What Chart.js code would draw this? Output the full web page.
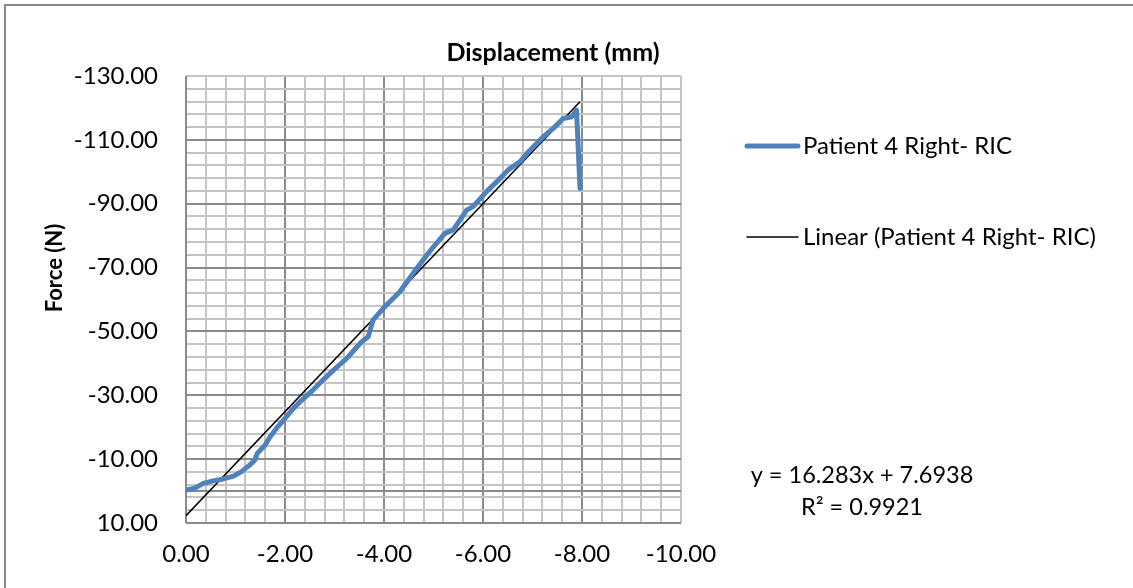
<!DOCTYPE html>
<html>
<head>
<meta charset="utf-8">
<script src="https://cdn.jsdelivr.net/npm/chart.js@4.4.1/dist/chart.umd.min.js"></script>
<style>
  html, body { margin: 0; padding: 0; background: #fff; }
  #wrap { width: 1133px; height: 588px; position: relative; }
</style>
</head>
<body>
<div id="wrap"><canvas id="c" width="1133" height="588"></canvas></div>
<script>
// ---- data ----
const displacement = [0.00, -0.18, -0.35, -0.55, -0.75, -0.96, -1.12, -1.29, -1.39, -1.44, -1.60, -1.70, -1.83, -2.00, -2.17, -2.34, -2.57, -2.78, -2.98, -3.25, -3.55, -3.68, -3.78, -4.05, -4.32, -4.59, -4.79, -5.00, -5.23, -5.40, -5.67, -5.80, -6.07, -6.28, -6.51, -6.75, -6.92, -7.22, -7.42, -7.62, -7.79, -7.89, -7.96];
const force = [-0.3, -0.9, -2.4, -3.2, -3.8, -4.7, -6.1, -8.2, -9.7, -11.8, -14.4, -17.0, -19.7, -22.8, -25.9, -28.5, -31.7, -35.0, -37.9, -41.6, -46.8, -48.3, -53.6, -58.3, -62.4, -68.2, -72.4, -76.5, -80.7, -81.8, -88.0, -89.1, -93.8, -96.9, -100.6, -103.2, -106.3, -111.0, -113.6, -116.7, -117.2, -119.3, -94.8];
const seriesName = "Patient 4 Right- RIC";
const trendName = "Linear (Patient 4 Right- RIC)";
const trendSlope = 16.283;
const trendIntercept = 7.6938;
const trendR2 = 0.9921;
const chartTitle = "Displacement (mm)";
const yTitle = "Force (N)";
const xMin = -10, xMax = 0, xMinorStep = 0.4, xMajorStep = 2;
const yMin = -130, yMax = 10, yMinorStep = 4, yMajorStep = 20;

// ---- build datasets ----
const seriesPoints = displacement.map((d, i) => ({ x: d, y: force[i] }));
const dMin = Math.min(...displacement), dMax = Math.max(...displacement);
const trendPoints = [dMax, dMin].map(d => ({ x: d, y: trendSlope * d + trendIntercept }));

const FONT = "Lato, 'Open Sans', sans-serif";
const MAJOR = '#8a8a8a', MINOR = '#c4c4c4';
const isMult = (v, step, base) => Math.abs(((v - base) / step) - Math.round((v - base) / step)) < 1e-6;

const deco = {
  id: 'deco',
  beforeDatasetsDraw(chart) {
    const ctx = chart.ctx, a = chart.chartArea;
    const y0 = chart.scales.y.getPixelForValue(0);
    ctx.save();
    ctx.strokeStyle = MAJOR; ctx.lineWidth = 2;
    ctx.beginPath(); ctx.moveTo(a.left, Math.round(y0)); ctx.lineTo(a.right, Math.round(y0)); ctx.stroke();
    ctx.beginPath(); ctx.moveTo(a.left, Math.round(a.bottom)); ctx.lineTo(a.right, Math.round(a.bottom)); ctx.stroke();
    ctx.beginPath(); ctx.moveTo(Math.round(a.left), a.top); ctx.lineTo(Math.round(a.left), a.bottom); ctx.stroke();
    ctx.restore();
  },
  afterDraw(chart) {
    const ctx = chart.ctx;
    ctx.save();
    // outer chart border
    ctx.strokeStyle = '#878787'; ctx.lineWidth = 2;
    ctx.beginPath(); ctx.moveTo(5, 588); ctx.lineTo(5, 5); ctx.lineTo(1133, 5); ctx.stroke();
    ctx.fillStyle = '#000';
    // title
    ctx.font = "bold 25px " + FONT;
    ctx.textAlign = 'center'; ctx.textBaseline = 'middle';
    ctx.fillText(chartTitle, 553, 53);
    // y title
    ctx.save();
    ctx.font = "bold 22px " + FONT;
    ctx.translate(55, 268); ctx.rotate(-Math.PI / 2);
    ctx.fillText(yTitle, 0, 0);
    ctx.restore();
    // legend
    const ds = chart.data.datasets;
    ctx.font = "24px " + FONT;
    ctx.textAlign = 'left';
    const rows = [146, 237];
    ds.forEach((d, i) => {
      ctx.strokeStyle = d.borderColor; ctx.lineWidth = d.borderWidth; ctx.lineCap = 'round';
      ctx.beginPath(); ctx.moveTo(747, rows[i]); ctx.lineTo(798, rows[i]); ctx.stroke();
      ctx.fillText(d.label, 803, rows[i]);
    });
    // equation
    ctx.font = "23.5px " + FONT;
    ctx.textAlign = 'center';
    ctx.fillText('y = ' + trendSlope + 'x + ' + trendIntercept, 862, 475);
    ctx.fillText('R\u00B2 = ' + trendR2, 862, 507);
    ctx.restore();
  }
};

new Chart(document.getElementById('c'), {
  type: 'scatter',
  data: {
    datasets: [
      { label: seriesName, data: seriesPoints, showLine: true, borderColor: '#4f81bd', backgroundColor: '#4f81bd', borderWidth: 5, pointRadius: 0, tension: 0, borderJoinStyle: 'round', borderCapStyle: 'round' },
      { label: trendName, data: trendPoints, showLine: true, borderColor: '#000000', backgroundColor: '#000000', borderWidth: 1.5, pointRadius: 0 }
    ]
  },
  options: {
    responsive: false,
    animation: false,
    devicePixelRatio: 1,
    layout: { padding: { top: 76, right: 452, bottom: 0, left: 0 } },
    plugins: { legend: { display: false }, tooltip: { enabled: false }, title: { display: false } },
    scales: {
      x: {
        type: 'linear', min: xMin, max: xMax, reverse: true, position: 'bottom',
        afterFit(s) { s.height = 65; },
        border: { display: false },
        grid: {
          drawTicks: false, lineWidth: 2,
          color: c => (isMult(c.tick.value, xMajorStep, 0) && Math.abs(c.tick.value - xMin) > 1e-6) ? MAJOR : MINOR
        },
        ticks: {
          stepSize: xMinorStep, autoSkip: false, maxRotation: 0, padding: 17, color: '#000',
          font: { family: FONT, size: 24 },
          callback: v => isMult(v, xMajorStep, 0) ? (Math.abs(v) < 1e-9 ? 0 : v).toFixed(2) : ''
        }
      },
      y: {
        type: 'linear', min: yMin, max: yMax, reverse: true,
        afterFit(s) { s.width = 186; },
        border: { display: false },
        grid: {
          drawTicks: false, lineWidth: 2,
          color: c => (isMult(c.tick.value, yMajorStep, yMax) && Math.abs(c.tick.value - yMin) > 1e-6) ? MAJOR : MINOR
        },
        ticks: {
          stepSize: yMinorStep, autoSkip: false, padding: 28, color: '#000',
          font: { family: FONT, size: 24 },
          callback: v => isMult(v, yMajorStep, yMax) ? v.toFixed(2) : ''
        }
      }
    }
  },
  plugins: [deco]
});
</script>
</body>
</html>
